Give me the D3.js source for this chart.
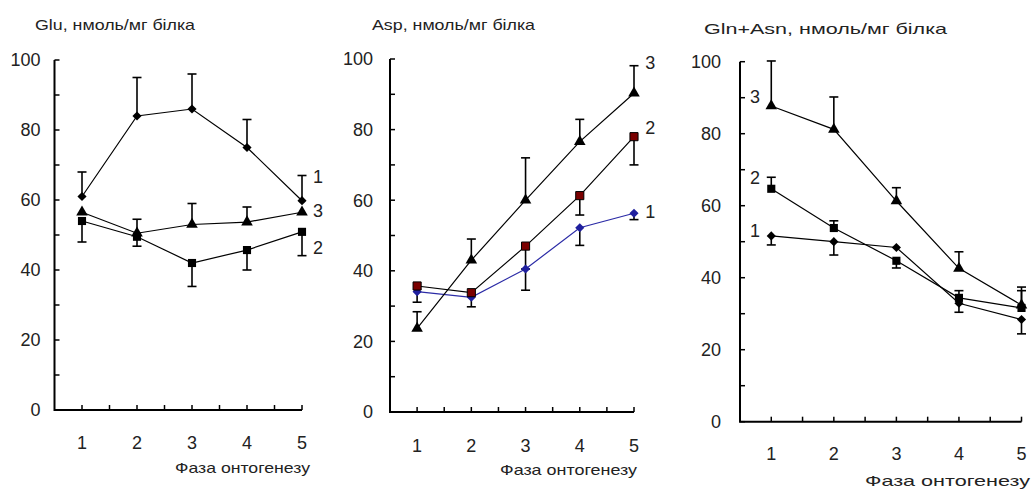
<!DOCTYPE html>
<html>
<head>
<meta charset="utf-8">
<title>Glu, Asp, Gln+Asn</title>
<script src="https://d3js.org/d3.v7.min.js"></script>
<style>
  body { margin: 0; background: #fff; }
  svg { display: block; background: #fff; font-family: "Liberation Sans", Arial, sans-serif; }
  .axis-line { stroke: #000; stroke-width: 2px; fill: none; }
  .tick { stroke: #000; stroke-width: 1.5px; }
  .tick-label { font-size: 18px; fill: #222; }
  .title { font-size: 15px; fill: #222; }
  .xlabel { font-size: 15px; fill: #222; }
  .series-label { font-size: 18px; fill: #222; }
  .line { fill: none; stroke-width: 1.2px; }
  .err { stroke: #000; stroke-width: 1.6px; }
</style>
</head>
<body>
<svg></svg>
<script>
// data
var phases = [1, 2, 3, 4, 5];
var yTicks = [0, 20, 40, 60, 80, 100];

// Glu (error sign: + up, - down)
var glu1 = [61, 84, 86, 75, 59.8];
var glu1Err = [7, 11, 10, 8, 7.2];
var glu2 = [54, 49.5, 42, 45.7, 50.9];
var glu2Err = [-6, -2.7, -6.7, -5.7, -6.8];
var glu3 = [56.5, 50.5, 53, 53.7, 56.5];
var glu3Err = [0, 4, 6, 4.3, 0];

// Asp
var asp1 = [34.1, 32.5, 40.5, 52.2, 56.3];
var asp1Err = [-3, -2.7, -6, -5, -1.8];
var asp2 = [35.7, 33.8, 47, 61.3, 78];
var asp2Err = [0, 0, -6.5, -5.5, -8];
var asp3 = [23.7, 43, 60, 76.6, 90.3];
var asp3Err = [4.7, 6, 12, 6.3, 7.8];

// Gln+Asn
var gln1 = [51.6, 50, 48.4, 32.9, 28.4];
var gln1Err = [-2.5, -3.7, 0, -2.5, -4];
var gln2 = [64.7, 53.8, 44.7, 34.4, 31.6];
var gln2Err = [3.2, 2, -2, 2, 4.8];
var gln3 = [87.7, 81.2, 61.3, 42.6, 32.4];
var gln3Err = [12.5, 9, 3.7, 4.6, 5];

var xAxisTitle = "Фаза онтогенезу";

// layout
var svg = d3.select("svg").attr("width", 1032).attr("height", 489);

var panels = [
  {
    title: "Glu, нмоль/мг білка", titleX: 35, titleY: 30, titleLen: 160,
    x0: 54.5, x1: 302, y0: 410, y1: 60,
    yLabelGap: 14, xLabelGap: 33, xTitleRight: 310, xTitleY: 473, xTitleLen: 135,
    series: [
      { v: glu1, e: glu1Err, shape: "diamond", color: "#000", fill: "#000", label: "1", at: [5.29, 66.6] },
      { v: glu2, e: glu2Err, shape: "square", color: "#000", fill: "#000", label: "2", at: [5.29, 46.3] },
      { v: glu3, e: glu3Err, shape: "triangle", color: "#000", fill: "#000", label: "3", at: [5.29, 57.1] }
    ]
  },
  {
    title: "Asp, нмоль/мг білка", titleX: 372, titleY: 30, titleLen: 163,
    x0: 390, x1: 634, y0: 412, y1: 59,
    yLabelGap: 17, xLabelGap: 34, xTitleRight: 637, xTitleY: 475, xTitleLen: 137,
    series: [
      { v: asp1, e: asp1Err, shape: "diamond", color: "#2b2ba6", fill: "#1f1f9e", label: "1", at: [5.3, 56.7] },
      { v: asp2, e: asp2Err, shape: "square", color: "#000", fill: "#7a0000", label: "2", at: [5.3, 80.5] },
      { v: asp3, e: asp3Err, shape: "triangle", color: "#000", fill: "#000", label: "3", at: [5.3, 98.9] }
    ]
  },
  {
    title: "Gln+Asn, нмоль/мг білка", titleX: 704, titleY: 34, titleLen: 243,
    x0: 740, x1: 1021.5, y0: 421.7, y1: 61.7,
    yLabelGap: 19, xLabelGap: 32, xTitleRight: 1030, xTitleY: 486, xTitleLen: 165,
    series: [
      { v: gln1, e: gln1Err, shape: "diamond", color: "#000", fill: "#000", label: "1", at: [0.74, 53.2] },
      { v: gln2, e: gln2Err, shape: "square", color: "#000", fill: "#000", label: "2", at: [0.74, 67.7] },
      { v: gln3, e: gln3Err, shape: "triangle", color: "#000", fill: "#000", label: "3", at: [0.74, 90.2] }
    ]
  }
];

var symbols = {
  diamond: d3.symbol().type(d3.symbolSquare).size(42),
  square: d3.symbol().type(d3.symbolSquare).size(66),
  triangle: d3.symbol().type(d3.symbolTriangle).size(58)
};

panels.forEach(drawPanel);

function drawPanel(p) {
  var x = d3.scaleLinear().domain([0.5, 5]).range([p.x0, p.x1]);
  var y = d3.scaleLinear().domain([0, 100]).range([p.y0, p.y1]);
  var g = svg.append("g");

  // title
  g.append("text").attr("class", "title")
    .attr("x", p.titleX).attr("y", p.titleY)
    .attr("textLength", p.titleLen).attr("lengthAdjust", "spacingAndGlyphs")
    .text(p.title);

  // axes lines
  g.append("path").attr("class", "axis-line")
    .attr("d", "M" + x(0.5) + "," + y(100) + "V" + y(0) + "H" + x(5));

  // y ticks (inward), every 10
  var yMinor = d3.range(0, 101, 10);
  g.selectAll(".ytick").data(yMinor).enter().append("line")
    .attr("class", "tick")
    .attr("x1", x(0.5)).attr("x2", x(0.5) + 5)
    .attr("y1", function (d) { return y(d); }).attr("y2", function (d) { return y(d); });
  g.selectAll(".ylab").data(yTicks).enter().append("text")
    .attr("class", "tick-label")
    .attr("x", x(0.5) - p.yLabelGap).attr("y", function (d) { return y(d); })
    .attr("dy", "0.36em").attr("text-anchor", "end")
    .text(function (d) { return d; });

  // x ticks (inward), every 0.5
  var xMinor = d3.range(1, 5.01, 0.5);
  g.selectAll(".xtick").data(xMinor).enter().append("line")
    .attr("class", "tick")
    .attr("x1", function (d) { return x(d); }).attr("x2", function (d) { return x(d); })
    .attr("y1", y(0)).attr("y2", y(0) - 5);
  g.selectAll(".xlab").data(phases).enter().append("text")
    .attr("class", "tick-label")
    .attr("x", function (d) { return x(d); }).attr("y", y(0) + p.xLabelGap)
    .attr("dy", "0.36em").attr("text-anchor", "middle")
    .text(function (d) { return d; });

  g.append("text").attr("class", "xlabel")
    .attr("x", p.xTitleRight - p.xTitleLen).attr("y", p.xTitleY)
    .attr("textLength", p.xTitleLen).attr("lengthAdjust", "spacingAndGlyphs")
    .text(xAxisTitle);

  var line = d3.line()
    .x(function (d, i) { return x(phases[i]); })
    .y(function (d) { return y(d); });

  // lines
  p.series.forEach(function (s) {
    g.append("path").attr("class", "line")
      .attr("stroke", s.color)
      .attr("d", line(s.v));
  });

  // error bars
  p.series.forEach(function (s) {
    var eb = g.append("g");
    s.v.forEach(function (v, i) {
      var e = s.e[i];
      if (!e) return;
      var cx = x(phases[i]), ya = y(v), yb = y(v + e);
      eb.append("line").attr("class", "err")
        .attr("x1", cx).attr("x2", cx).attr("y1", ya).attr("y2", yb);
      eb.append("line").attr("class", "err")
        .attr("x1", cx - 4.5).attr("x2", cx + 4.5).attr("y1", yb).attr("y2", yb);
    });
  });

  // markers
  p.series.forEach(function (s) {
    g.selectAll(null).data(s.v).enter().append("path")
      .attr("d", symbols[s.shape])
      .attr("transform", function (d, i) {
        return "translate(" + x(phases[i]) + "," + y(d) + ")" + (s.shape === "diamond" ? " rotate(45)" : "");
      })
      .attr("fill", s.fill)
      .attr("stroke", s.shape === "square" && s.fill !== "#000" ? "#000" : "none")
      .attr("stroke-width", 1);

    g.append("text").attr("class", "series-label")
      .attr("x", x(s.at[0])).attr("y", y(s.at[1]))
      .attr("dy", "0.36em").attr("text-anchor", "middle")
      .text(s.label);
  });
}
</script>
</body>
</html>
